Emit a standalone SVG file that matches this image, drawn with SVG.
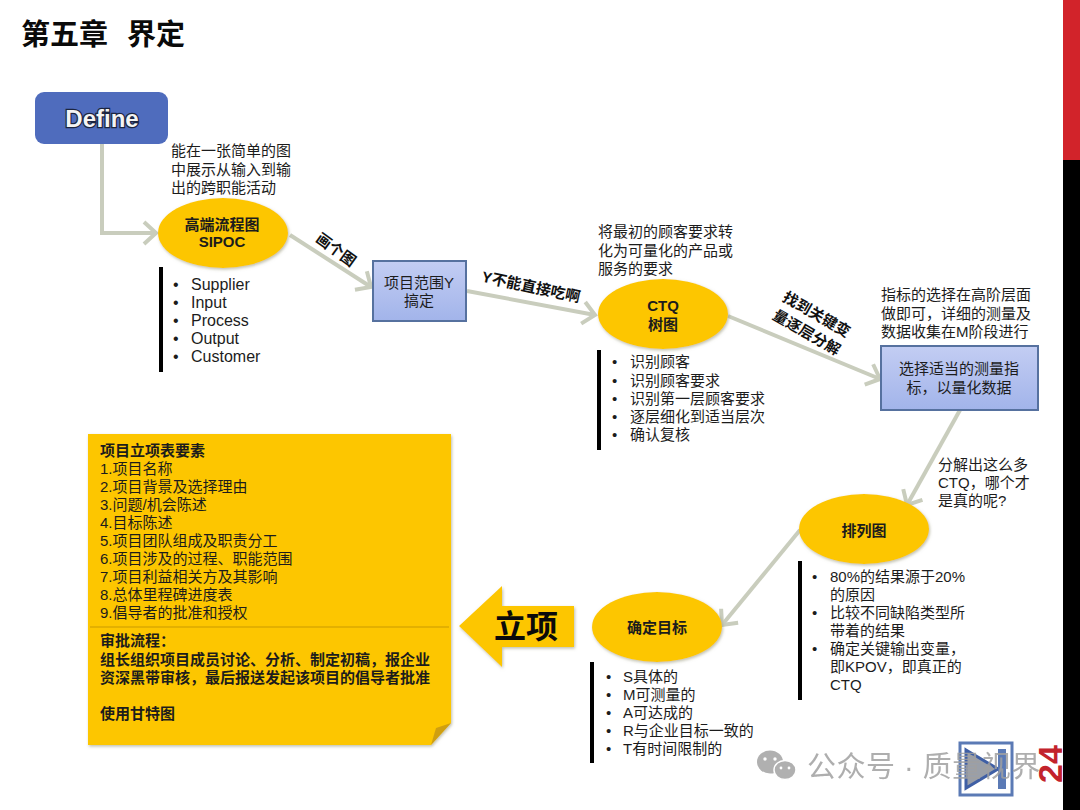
<svg xmlns="http://www.w3.org/2000/svg" width="1080" height="810" viewBox="0 0 1080 810">
<style>
text{font-family:"Liberation Sans","Noto Sans CJK SC",sans-serif;font-size:15px;fill:#1c1c1c}
.en{font-size:16px}
.b{font-weight:bold}
.c{text-anchor:middle}
.oval{fill:#fdc605;filter:url(#soft)}
.bar{fill:#000}
.box{fill:url(#boxg);stroke:#56719f;stroke-width:2}
.con{fill:none;stroke:#c9cdbd;stroke-width:4;marker-end:url(#arr)}
.lab{font-weight:bold;font-size:15px;fill:#111}
</style>
<defs>
<linearGradient id="boxg" x1="0" y1="0" x2="0" y2="1"><stop offset="0" stop-color="#c3cdf3"/><stop offset="1" stop-color="#a2b4ea"/></linearGradient>
<filter id="soft" x="-10%" y="-10%" width="120%" height="125%"><feDropShadow dx="1" dy="1.5" stdDeviation="1.5" flood-color="#8a8a6a" flood-opacity="0.55"/></filter>
<marker id="arr" markerUnits="userSpaceOnUse" markerWidth="24" markerHeight="28" refX="17" refY="14" orient="auto"><path d="M5 3 L17 14 L5 25" fill="none" stroke="#c9cdbd" stroke-width="4"/></marker>
</defs>
<rect width="1080" height="810" fill="#fff"/>
<g id="sidebar"><rect x="1063" width="17" height="810" fill="#000"/><rect x="1063" width="17" height="160" fill="#d2232a"/></g>
<text y="45" class="b" style="font-size:29px;fill:#0a0a0a"><tspan x="21">第五章</tspan><tspan x="127">界定</tspan></text>
<g id="connectors">
<path class="con" d="M102 144V233H156"/>
<path class="con" d="M290 235L371 287"/>
<path class="con" d="M467 291L595 315"/>
<path class="con" d="M728 316L880 379"/>
<path class="con" d="M960 410L907 505"/>
<path class="con" d="M800 530L722 625"/>
<text class="lab c" transform="translate(333 254) rotate(36)">画个图</text>
<text class="lab c" transform="translate(530 292) rotate(12)">Y不能直接吃啊</text>
<text class="lab c" transform="translate(814 319) rotate(30)">找到关键变</text>
<text class="lab c" transform="translate(804 337) rotate(30)">量逐层分解</text>
</g>
<g id="define"><rect x="35" y="92" width="133" height="52" rx="9" fill="#4f6cbd"/><text x="102" y="127" class="b c" style="font-size:24px;fill:#f4f4f4;stroke:#1c2540;stroke-width:2.5px;paint-order:stroke">Define</text></g>
<g id="sipoc"><text x="171" y="156">能在一张简单的图</text><text x="171" y="175">中展示从输入到输</text><text x="171" y="193">出的跨职能活动</text>
<ellipse class="oval" cx="223" cy="233" rx="65" ry="35"/><text x="222" y="230" class="b c">高端流程图</text><text x="222" y="247" class="b c">SIPOC</text>
<rect class="bar" x="159" y="267" width="4" height="105"/>
<g class="en"><text x="173" y="290" class="en">•</text><text x="191" y="290" class="en">Supplier</text><text x="173" y="308" class="en">•</text><text x="191" y="308" class="en">Input</text><text x="173" y="326" class="en">•</text><text x="191" y="326" class="en">Process</text><text x="173" y="344" class="en">•</text><text x="191" y="344" class="en">Output</text><text x="173" y="362" class="en">•</text><text x="191" y="362" class="en">Customer</text></g></g>
<g id="scope"><rect class="box" x="373" y="261" width="93" height="60"/><text x="419" y="288" class="c">项目范围Y</text><text x="419" y="306" class="c">搞定</text></g>
<g id="ctq"><text x="598" y="237">将最初的顾客要求转</text><text x="598" y="256">化为可量化的产品或</text><text x="598" y="274">服务的要求</text>
<ellipse class="oval" cx="663" cy="314" rx="65" ry="35"/><text x="663" y="311" class="b c">CTQ</text><text x="663" y="330" class="b c">树图</text>
<rect class="bar" x="597" y="350" width="4" height="100"/>
<text x="612" y="367">•</text><text x="630" y="367">识别顾客</text><text x="612" y="386">•</text><text x="630" y="386">识别顾客要求</text><text x="612" y="404">•</text><text x="630" y="404">识别第一层顾客要求</text><text x="612" y="422">•</text><text x="630" y="422">逐层细化到适当层次</text><text x="612" y="440">•</text><text x="630" y="440">确认复核</text></g>
<g id="metric"><text x="881" y="300">指标的选择在高阶层面</text><text x="881" y="319">做即可，详细的测量及</text><text x="881" y="337">数据收集在M阶段进行</text>
<rect class="box" x="881" y="346" width="157" height="64"/><text x="959" y="374" class="c">选择适当的测量指</text><text x="959" y="393" class="c">标，以量化数据</text></g>
<g id="pareto"><text x="938" y="470">分解出这么多</text><text x="938" y="488">CTQ，哪个才</text><text x="938" y="506">是真的呢?</text>
<ellipse class="oval" cx="864" cy="529" rx="65" ry="35"/><text x="864" y="536" class="b c">排列图</text>
<rect class="bar" x="798" y="561" width="4" height="139"/>
<text x="812" y="582">•</text><text x="830" y="582">80%的结果源于20%</text><text x="830" y="600">的原因</text><text x="812" y="618">•</text><text x="830" y="618">比较不同缺陷类型所</text><text x="830" y="636">带着的结果</text><text x="812" y="654">•</text><text x="830" y="654">确定关键输出变量，</text><text x="830" y="672">即KPOV，即真正的</text><text x="830" y="690">CTQ</text></g>
<g id="goal"><ellipse class="oval" cx="657" cy="627" rx="65" ry="35"/><text x="657" y="633" class="b c">确定目标</text>
<rect class="bar" x="590" y="662" width="4" height="101"/>
<text x="606" y="682">•</text><text x="623" y="682">S具体的</text><text x="606" y="700">•</text><text x="623" y="700">M可测量的</text><text x="606" y="718">•</text><text x="623" y="718">A可达成的</text><text x="606" y="736">•</text><text x="623" y="736">R与企业目标一致的</text><text x="606" y="754">•</text><text x="623" y="754">T有时间限制的</text></g>
<g id="lixiang"><polygon points="459,626 502,586 502,606 574,606 574,647 502,647 502,667" fill="#fdc605" filter="url(#soft)"/><text x="526" y="638" class="b c" style="font-size:32px;fill:#0a0a0a">立项</text></g>
<g id="panel"><path d="M88 434H451V723L431 745H88Z" fill="#fdc605" filter="url(#soft)"/><path d="M451 723L431 745L436 728Z" fill="#cf9f10"/><path d="M90 627H449" stroke="#c99a00" stroke-width="1"/>
<text x="100" y="456" class="b">项目立项表要素</text><text x="100" y="474">1.项目名称</text><text x="100" y="492">2.项目背景及选择理由</text><text x="100" y="510">3.问题/机会陈述</text><text x="100" y="528">4.目标陈述</text><text x="100" y="546">5.项目团队组成及职责分工</text><text x="100" y="564">6.项目涉及的过程、职能范围</text><text x="100" y="582">7.项目利益相关方及其影响</text><text x="100" y="600">8.总体里程碑进度表</text><text x="100" y="618">9.倡导者的批准和授权</text>
<text x="100" y="646" class="b">审批流程：</text><text x="100" y="665" class="b">组长组织项目成员讨论、分析、制定初稿，报企业</text><text x="100" y="683" class="b">资深黑带审核，最后报送发起该项目的倡导者批准</text><text x="100" y="719" class="b">使用甘特图</text></g>
<g id="nav"><rect x="960" y="743" width="52" height="52" fill="none" stroke="#5b7ab5" stroke-width="3"/><polygon points="966,750 998,769 966,788" fill="#9a9fa8" stroke="#3f5fa5" stroke-width="3"/><rect x="998" y="749" width="8" height="40" fill="#5b7ab5"/></g>
<text transform="translate(1062 764) rotate(-90)" class="b c" style="font-size:34px;fill:#c3232c">24</text>
<g id="watermark" opacity="0.85"><ellipse cx="770" cy="762" rx="13" ry="11.5" fill="#a3a3a3"/><ellipse cx="785" cy="770" rx="11" ry="9.5" fill="#a3a3a3" stroke="#fff" stroke-width="1.5"/><circle cx="765" cy="759" r="1.7" fill="#fff"/><circle cx="775" cy="759" r="1.7" fill="#fff"/><circle cx="781" cy="768" r="1.4" fill="#fff"/><circle cx="789" cy="768" r="1.4" fill="#fff"/><text x="807" y="777" style="font-size:29px;fill:#a0a0a0;letter-spacing:0.5px">公众号 · 质量视界</text></g>
</svg>
